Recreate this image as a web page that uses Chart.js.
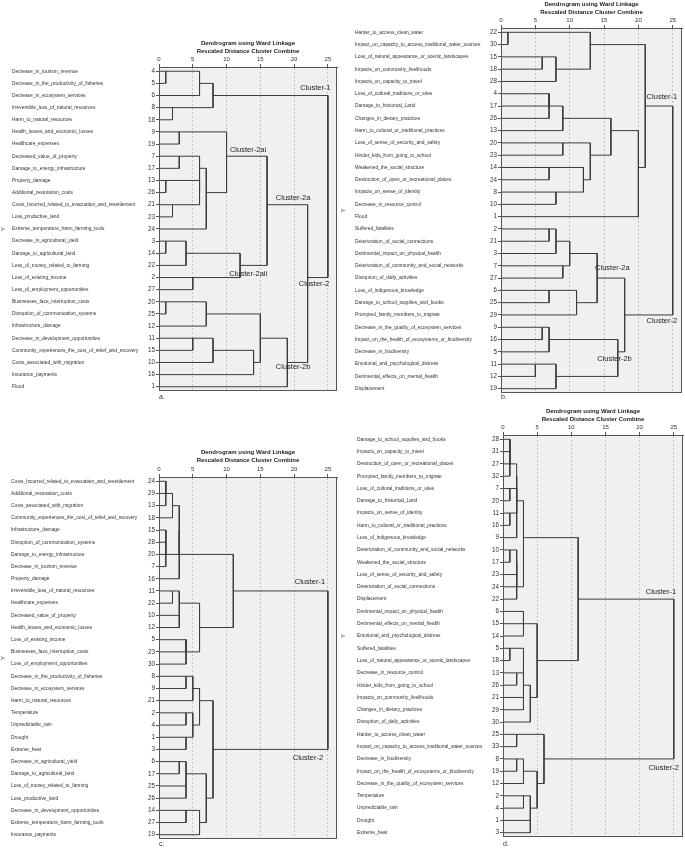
<!DOCTYPE html>
<html>
<head>
<meta charset="utf-8">
<title>Dendrograms using Ward Linkage</title>
<script src="https://cdn.jsdelivr.net/npm/chart.js@4.4.1/dist/chart.umd.min.js"></script>
<style>
  body { margin: 0; background: #fff; }
  #page { position: relative; width: 685px; height: 851px; overflow: hidden; }
  canvas { position: absolute; }
</style>
</head>
<body>
<div id="page">
  <canvas id="chartA" width="340" height="375" style="left:0;top:30px"></canvas>
  <canvas id="chartB" width="345" height="410" style="left:340px;top:0"></canvas>
  <canvas id="chartC" width="340" height="421" style="left:0;top:430px"></canvas>
  <canvas id="chartD" width="345" height="451" style="left:340px;top:400px"></canvas>
</div>
<script>
// rescaled distance axis
const distanceTicks = [0, 5, 10, 15, 20, 25];

// panel a: leaf order (case numbers), their names, merges [left, right, rescaled distance]
const leavesA = [4, 5, 6, 8, 18, 9, 19, 7, 17, 13, 26, 21, 23, 24, 3, 14, 22, 2, 27, 20, 25, 12, 11, 15, 10, 16, 1];
const namesA = ['Decrease_in_tourism_revenue', 'Decrease_in_the_productivity_of_fisheries', 'Decrease_in_ecosystem_services',
  'Irreversible_loss_of_natural_resources', 'Harm_to_natural_resources', 'Health_issues_and_economic_losses',
  'Healthcare_expenses', 'Decreased_value_of_property', 'Damage_to_energy_infrastructure', 'Property_damage',
  'Additional_restoration_costs', 'Costs_Incurred_related_to_evacuation_and_resettlement', 'Loss_productive_land',
  'Extreme_temperature_harm_farming_tools', 'Decrease_in_agricultural_yield', 'Damage_to_agricultural_land',
  'Loss_of_money_related_to_farming', 'Loss_of_existing_income', 'Loss_of_employment_opportunities',
  'Businesses_face_interruption_costs', 'Disruption_of_communication_systems', 'Infrastructure_damage',
  'Decrease_in_development_opportunities', 'Community_experiences_the_cost_of_relief_and_recovery',
  'Costs_associated_with_migration', 'Insurance_payments', 'Flood'];
const mergesA = [[4, 5, 1], ['m0', 6, 6], [8, 18, 2], ['m1', 'm2', 8], [9, 19, 3], [7, 17, 3], [13, 26, 1],
  [21, 23, 2], ['m6', 'm7', 6], ['m5', 'm8', 6], ['m9', 24, 7], ['m4', 'm10', 10], [3, 14, 1], ['m12', 22, 4],
  [2, 27, 5], ['m13', 'm14', 12], ['m11', 'm15', 16], [20, 25, 1], ['m17', 12, 7], [11, 15, 5], ['m19', 10, 8],
  ['m20', 16, 14], ['m18', 'm21', 15], ['m22', 1, 19], ['m16', 'm23', 22], ['m3', 'm24', 25]];
const notesA = [['Cluster-1', 20.9, 1.4], ['Cluster-2ai', 10.5, 6.5], ['Cluster-2a', 17.3, 10.4],
  ['Cluster-2aii', 10.4, 16.7], ['Cluster-2', 20.7, 17.5], ['Cluster-2b', 17.3, 24.4]];

// panel b
const leavesB = [22, 30, 15, 18, 28, 4, 17, 26, 13, 20, 23, 14, 24, 8, 10, 1, 2, 21, 3, 7, 27, 6, 25, 29, 9, 16, 5, 11, 12, 19];
const namesB = ['Harder_to_access_clean_water', 'Impact_on_capacity_to_access_traditional_water_sources',
  'Loss_of_natural_appearance_or_scenic_landscapes', 'Impacts_on_community_livelihoods', 'Impacts_on_capacity_to_travel',
  'Loss_of_cultural_traditions_or_sites', 'Damage_to_historical_Land', 'Changes_in_dietary_practices',
  'Harm_to_cultural_or_traditional_practices', 'Loss_of_sense_of_security_and_safety', 'Hinder_kids_from_going_to_school',
  'Weakened_the_social_structure', 'Destruction_of_open_or_recreational_places', 'Impacts_on_sense_of_identity',
  'Decrease_in_resource_control', 'Flood', 'Suffered_fatalities', 'Deterioration_of_social_connections',
  'Detrimental_impact_on_physical_health', 'Deterioration_of_community_and_social_networks',
  'Disruption_of_daily_activities', 'Loss_of_indigenous_knowledge', 'Damage_to_school_supplies_and_books',
  'Prompted_family_members_to_migrate', 'Decrease_in_the_quality_of_ecosystem_services',
  'Impact_on_the_health_of_ecosystems_or_biodiversity', 'Decrease_in_biodiversity',
  'Emotional_and_psychological_distress', 'Detrimental_effects_on_mental_health', 'Displacement'];
const mergesB = [[22, 30, 1], [15, 18, 6], ['m1', 28, 8], ['m0', 'm2', 13], [4, 17, 7], ['m4', 26, 7],
  ['m5', 13, 9], [20, 23, 9], [14, 24, 7], [8, 10, 8], ['m8', 'm9', 12], ['m7', 'm10', 13], ['m6', 'm11', 16],
  ['m12', 1, 20], ['m3', 'm13', 21], [2, 21, 7], ['m15', 3, 8], [7, 27, 9], ['m16', 'm17', 10], [6, 25, 7],
  ['m19', 29, 11], ['m18', 'm20', 14], [9, 16, 6], ['m22', 5, 7], [11, 12, 5], ['m24', 19, 8],
  ['m23', 'm25', 17], ['m21', 'm26', 18], ['m14', 'm27', 25]];
const notesB = [['Cluster-1', 21.2, 5.3], ['Cluster-2a', 13.7, 19.2], ['Cluster-2', 21.2, 23.5], ['Cluster-2b', 14.0, 26.6]];

// panel c
const leavesC = [24, 29, 13, 18, 15, 28, 20, 7, 16, 11, 22, 10, 12, 5, 23, 30, 8, 9, 21, 2, 4, 1, 3, 6, 17, 25, 26, 14, 27, 19];
const namesC = ['Costs_Incurred_related_to_evacuation_and_resettlement', 'Additional_restoration_costs',
  'Costs_associated_with_migration', 'Community_experiences_the_cost_of_relief_and_recovery', 'Infrastructure_damage',
  'Disruption_of_communication_systems', 'Damage_to_energy_infrastructure', 'Decrease_in_tourism_revenue',
  'Property_damage', 'Irreversible_loss_of_natural_resources', 'Healthcare_expenses', 'Decreased_value_of_property',
  'Health_issues_and_economic_losses', 'Loss_of_existing_income', 'Businesses_face_interruption_costs',
  'Loss_of_employment_opportunities', 'Decrease_in_the_productivity_of_fisheries', 'Decrease_in_ecosystem_services',
  'Harm_to_natural_resources', 'Temperature', 'Unpredictable_rain', 'Drought', 'Extreme_heat',
  'Decrease_in_agricultural_yield', 'Damage_to_agricultural_land', 'Loss_of_money_related_to_farming',
  'Loss_productive_land', 'Decrease_in_development_opportunities', 'Extreme_temperature_harm_farming_tools',
  'Insurance_payments'];
const mergesC = [[24, 29, 1], ['m0', 13, 1], ['m1', 18, 2], [15, 28, 1], ['m3', 20, 1], ['m4', 7, 1],
  ['m2', 'm5', 3], ['m6', 16, 3], [11, 22, 2], [10, 12, 3], ['m8', 'm9', 3], [5, 23, 4], ['m11', 30, 4],
  ['m10', 'm12', 6], ['m7', 'm13', 11], [8, 9, 4], ['m15', 21, 5], [2, 4, 4], [1, 3, 4], ['m17', 'm18', 5],
  ['m16', 'm19', 6], [6, 17, 3], [25, 26, 4], ['m21', 'm22', 4], [14, 27, 4], ['m24', 19, 6],
  ['m23', 'm25', 7], ['m20', 'm26', 8], ['m14', 'm27', 25]];
const notesC = [['Cluster-1', 20.1, 8.3], ['Cluster-2', 19.8, 22.7]];

// panel d
const leavesD = [28, 31, 27, 32, 7, 20, 11, 16, 9, 10, 17, 23, 24, 22, 6, 15, 14, 5, 18, 13, 26, 21, 29, 30, 25, 33, 8, 19, 12, 2, 4, 1, 3];
const namesD = ['Damage_to_school_supplies_and_books', 'Impacts_on_capacity_to_travel',
  'Destruction_of_open_or_recreational_places', 'Prompted_family_members_to_migrate',
  'Loss_of_cultural_traditions_or_sites', 'Damage_to_historical_Land', 'Impacts_on_sense_of_identity',
  'Harm_to_cultural_or_traditional_practices', 'Loss_of_indigenous_knowledge',
  'Deterioration_of_community_and_social_networks', 'Weakened_the_social_structure',
  'Loss_of_sense_of_security_and_safety', 'Deterioration_of_social_connections', 'Displacement',
  'Detrimental_impact_on_physical_health', 'Detrimental_effects_on_mental_health',
  'Emotional_and_psychological_distress', 'Suffered_fatalities', 'Loss_of_natural_appearance_or_scenic_landscapes',
  'Decrease_in_resource_control', 'Hinder_kids_from_going_to_school', 'Impacts_on_community_livelihoods',
  'Changes_in_dietary_practices', 'Disruption_of_daily_activities', 'Harder_to_access_clean_water',
  'Impact_on_capacity_to_access_traditional_water_sources', 'Decrease_in_biodiversity',
  'Impact_on_the_health_of_ecosystems_or_biodiversity', 'Decrease_in_the_quality_of_ecosystem_services',
  'Temperature', 'Unpredictable_rain', 'Drought', 'Extreme_heat'];
const mergesD = [[28, 31, 1], ['m0', 27, 1], ['m1', 32, 1], [7, 20, 1], [11, 16, 1], ['m3', 'm4', 2],
  ['m5', 'm2', 2], ['m6', 9, 2], [10, 17, 1], ['m8', 23, 2], ['m9', 24, 2], ['m10', 22, 2], ['m7', 'm11', 3],
  [6, 15, 3], ['m13', 14, 3], [5, 18, 1], [13, 26, 2], ['m15', 'm16', 3], ['m17', 21, 3], ['m18', 29, 3],
  ['m19', 30, 4], ['m14', 'm20', 5], ['m12', 'm21', 11], [25, 33, 2], [8, 19, 2], ['m24', 12, 3], [2, 4, 3],
  [1, 3, 4], ['m26', 'm27', 4], ['m25', 'm28', 5], ['m23', 'm29', 6], ['m22', 'm30', 25]];
const notesD = [['Cluster-1', 20.9, 12.4], ['Cluster-2', 21.3, 26.7]];

Chart.defaults.font.family = "'Liberation Sans', Arial, sans-serif";
Chart.defaults.color = '#333';

// each merge becomes one bracket: child a -> join height -> child b
function buildLinks(order, merges) {
  const node = {};
  order.forEach((id, i) => { node[id] = { pos: i, h: 0 }; });
  return merges.map((m, k) => {
    const a = node[m[0]], b = node[m[1]], h = m[2];
    node['m' + k] = { pos: Math.floor((a.pos + b.pos) / 2), h: h };
    return [{ x: a.h, y: a.pos }, { x: h, y: a.pos }, { x: h, y: b.pos }, { x: b.h, y: b.pos }];
  });
}

const plotFrame = {
  id: 'plotFrame',
  beforeDraw(chart) {
    const { ctx, chartArea: a } = chart;
    ctx.save();
    ctx.fillStyle = '#f0f0f0';
    ctx.fillRect(a.left, a.top, a.right - a.left, a.bottom - a.top);
    ctx.restore();
  },
  afterDraw(chart) {
    const { ctx, chartArea: a } = chart;
    ctx.save();
    ctx.strokeStyle = '#555';
    ctx.lineWidth = 1;
    ctx.strokeRect(Math.round(a.left) + 0.5, Math.round(a.top) + 0.5,
      Math.round(a.right - a.left) - 1, Math.round(a.bottom - a.top) - 1);
    ctx.restore();
  }
};

const clusterNotes = {
  id: 'clusterNotes',
  afterDatasetsDraw(chart, args, opts) {
    const { ctx, scales } = chart;
    ctx.save();
    ctx.font = "7.5px 'Liberation Sans', Arial, sans-serif";
    ctx.fillStyle = '#222';
    ctx.textAlign = 'left';
    ctx.textBaseline = 'middle';
    (opts.items || []).forEach(([text, x, y]) => {
      ctx.fillText(text, scales.x.getPixelForValue(x), scales.y.getPixelForValue(y));
    });
    ctx.restore();
  }
};

function drawPanel(id, order, names, merges, notes, letter, g) {
  const yMin = -0.35, yMax = order.length - 1 + 0.35;
  const rowTicks = s => { s.ticks = order.map((_, i) => ({ value: i })); };
  const datasets = buildLinks(order, merges).map(pts => ({
    data: pts,
    xAxisID: 'x',
    yAxisID: 'y',
    showLine: true,
    borderColor: '#3c3c3c',
    borderWidth: 1,
    pointRadius: 0,
    fill: false
  }));

  return new Chart(document.getElementById(id), {
    type: 'scatter',
    data: { datasets },
    options: {
      responsive: false,
      animation: false,
      layout: { padding: { left: 0, top: 0, right: g.padRight, bottom: 0 } },
      plugins: {
        legend: { display: false },
        tooltip: { enabled: false },
        clusterNotes: { items: notes }
      },
      scales: {
        x: {
          type: 'linear', position: 'top', min: 0, max: 26.35,
          afterBuildTicks: s => { s.ticks = distanceTicks.map(v => ({ value: v })); },
          ticks: { font: { size: 6 }, color: '#333', padding: 1.5, maxRotation: 0, autoSkip: false },
          grid: { color: '#c4c4c4', tickLength: 3, tickColor: '#555', tickBorderDash: [] },
          border: { display: true, color: '#555', dash: [2, 2] },
          title: {
            display: true,
            text: ['Dendrogram using Ward Linkage', 'Rescaled Distance Cluster Combine'],
            font: { size: 6, weight: 'bold', lineHeight: 1.42 },
            color: '#222',
            padding: { top: g.titleTop, bottom: 0 }
          },
          afterFit: s => { s.height = g.xH; }
        },
        x2: {
          type: 'linear', axis: 'x', position: 'bottom', min: 0, max: 1,
          ticks: { display: false }, grid: { display: false }, border: { display: false },
          title: { display: true, text: letter, align: 'start', font: { size: 7 }, color: '#333',
            padding: { top: 0, bottom: g.letterPad } },
          afterFit: s => { s.height = g.bottomH; }
        },
        yT: {
          type: 'linear', axis: 'y', position: 'left', weight: 2, min: yMin, max: yMax,
          ticks: { display: false }, grid: { display: false }, border: { display: false },
          title: { display: true, text: 'Y', font: { size: 6 }, color: '#333', padding: 0 },
          afterFit: s => { s.width = g.yT; }
        },
        yL: {
          type: 'linear', axis: 'y', position: 'left', weight: 1, reverse: true, min: yMin, max: yMax,
          afterBuildTicks: rowTicks,
          ticks: { autoSkip: false, crossAlign: 'far', font: { size: 4.85 }, color: '#333', padding: 0,
            callback: v => names[v] },
          grid: { display: false }, border: { display: false },
          afterFit: s => { s.width = g.yL; }
        },
        y: {
          type: 'linear', position: 'left', weight: 0, reverse: true, min: yMin, max: yMax,
          afterBuildTicks: rowTicks,
          ticks: { autoSkip: false, font: { size: 6.3 }, color: '#333', padding: 1,
            callback: v => String(order[v]) },
          grid: { drawOnChartArea: false, tickLength: 3, color: '#555', tickColor: '#555' },
          border: { display: false },
          afterFit: s => { s.width = 16; }
        }
      }
    },
    plugins: [plotFrame, clusterNotes]
  });
}

drawPanel('chartA', leavesA, namesA, mergesA, notesA, 'a.',
  { xH: 37, titleTop: 8.7, bottomH: 14, letterPad: 3.8, yT: 12, yL: 131, padRight: 3 });
drawPanel('chartB', leavesB, namesB, mergesB, notesB, 'b.',
  { xH: 28, titleTop: 0, bottomH: 17, letterPad: 8.8, yT: 15, yL: 130, padRight: 3 });
drawPanel('chartC', leavesC, namesC, mergesC, notesC, 'c.',
  { xH: 47, titleTop: 17.7, bottomH: 12, letterPad: 2.8, yT: 11, yL: 132, padRight: 3 });
drawPanel('chartD', leavesD, namesD, mergesD, notesD, 'd.',
  { xH: 35, titleTop: 6.7, bottomH: 14, letterPad: 2.8, yT: 17, yL: 130, padRight: 2 });
</script>
</body>
</html>
